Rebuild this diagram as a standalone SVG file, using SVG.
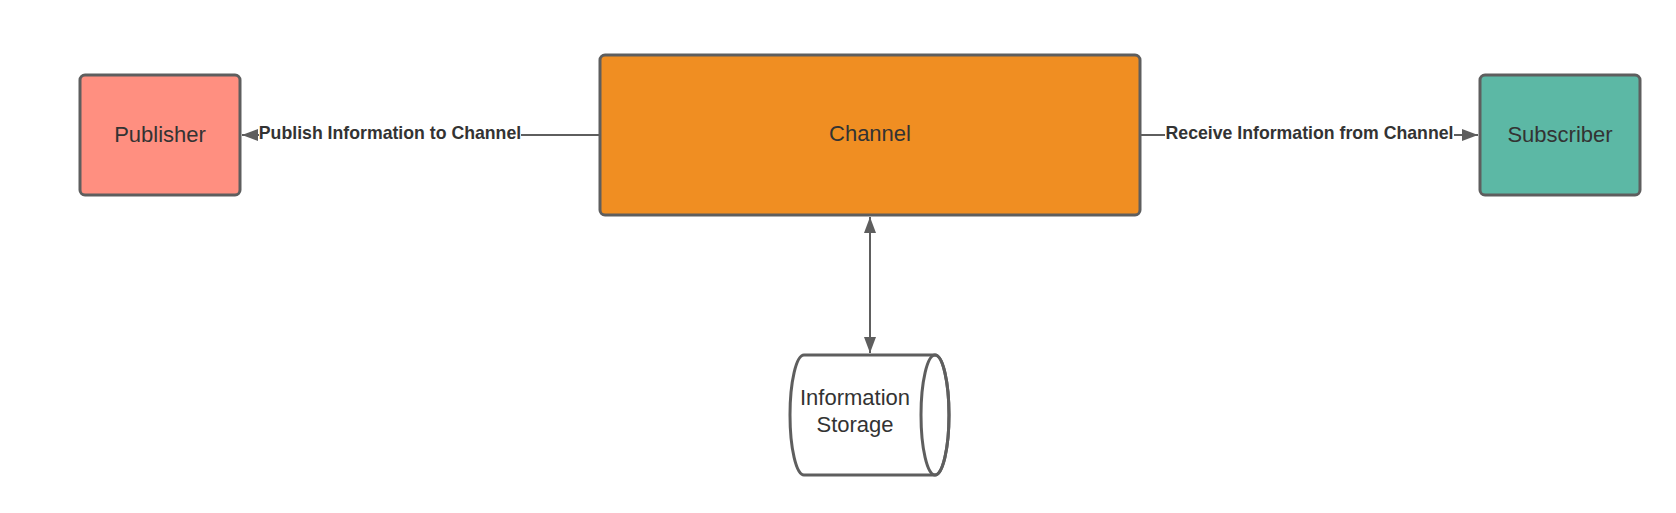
<svg xmlns="http://www.w3.org/2000/svg" width="1676" height="513" viewBox="0 0 1676 513">
<style>
.box{stroke:#5e5e5e;stroke-width:3}
.lbl{font-family:"Liberation Sans",Arial,sans-serif;font-size:22px;fill:#333;text-anchor:middle}
.edge{stroke:#5e5e5e;stroke-width:2;fill:none}
.elbl{font-family:"Liberation Sans",Arial,sans-serif;font-size:17.7px;font-weight:bold;fill:#333;text-anchor:middle}
</style>
<defs>
<marker id="arr" viewBox="0 0 16 12" refX="16" refY="6" markerWidth="16" markerHeight="12" markerUnits="userSpaceOnUse" orient="auto-start-reverse">
<path d="M0,0 L16,6 L0,12 Z" fill="#5e5e5e"/>
</marker>
</defs>
<rect width="1676" height="513" fill="#fff"/>
<g id="connectors">
<line class="edge" x1="600" y1="135" x2="242" y2="135" marker-end="url(#arr)"/>
<rect x="259" y="124" width="262" height="22" fill="#fff"/>
<text class="elbl" x="390" y="139">Publish Information to Channel</text>
<line class="edge" x1="1140" y1="135" x2="1478" y2="135" marker-end="url(#arr)"/>
<rect x="1165" y="124" width="289" height="22" fill="#fff"/>
<text class="elbl" x="1309.5" y="139">Receive Information from Channel</text>
<line class="edge" x1="870" y1="217" x2="870" y2="353" marker-start="url(#arr)" marker-end="url(#arr)"/>
</g>
<g id="publisher">
<rect class="box" x="80" y="75" width="160" height="120" rx="5" fill="#ff8f80"/>
<text class="lbl" x="160" y="142">Publisher</text>
</g>
<g id="channel">
<rect class="box" x="600" y="55" width="540" height="160" rx="5" fill="#f08e22"/>
<text class="lbl" x="870" y="141">Channel</text>
</g>
<g id="subscriber">
<rect class="box" x="1480" y="75" width="160" height="120" rx="5" fill="#5cb8a5"/>
<text class="lbl" x="1560" y="142">Subscriber</text>
</g>
<g id="storage">
<path class="box" fill="#fff" d="M804,355 L935,355 A14,60 0 0 1 935,475 L804,475 A14,60 0 0 1 804,355 Z"/>
<ellipse class="box" fill="none" cx="935" cy="415" rx="14" ry="60"/>
<text class="lbl" x="855" y="405">Information</text>
<text class="lbl" x="855" y="432">Storage</text>
</g>
</svg>
